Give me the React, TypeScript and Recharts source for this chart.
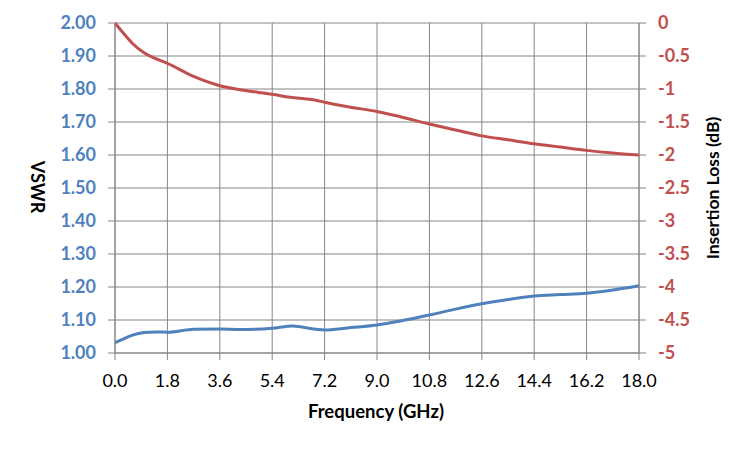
import { LineChart, Line, XAxis, YAxis, CartesianGrid, Label } from "recharts";

const FONT = "Lato, 'Open Sans', sans-serif";
const BLUE = "#4F81BD";
const RED = "#C0504D";
const GRID = "#868686";

const frequency = [
  0, 0.3, 0.6, 1.0, 1.4, 1.8, 2.7, 3.6, 4.3, 5.4, 6.1, 6.9, 7.2, 8.0, 9.0, 9.8,
  10.8, 11.7, 12.6, 13.5, 14.4, 15.3, 16.2, 17.1, 18.0,
];
const vswr = [
  1.031, 1.043, 1.054, 1.062, 1.064, 1.063, 1.072, 1.073, 1.071, 1.075, 1.082,
  1.072, 1.07, 1.076, 1.085, 1.097, 1.115, 1.133, 1.149, 1.162, 1.173, 1.177,
  1.181, 1.191, 1.204,
];
const insertionLoss = [
  0, -0.16, -0.31, -0.45, -0.54, -0.61, -0.81, -0.95, -1.01, -1.08, -1.13,
  -1.17, -1.2, -1.27, -1.34, -1.42, -1.53, -1.62, -1.71, -1.77, -1.83, -1.88,
  -1.93, -1.97, -2.0,
];

const freqTicks = [0, 1.8, 3.6, 5.4, 7.2, 9.0, 10.8, 12.6, 14.4, 16.2, 18.0];
const vswrTicks = [1.0, 1.1, 1.2, 1.3, 1.4, 1.5, 1.6, 1.7, 1.8, 1.9, 2.0];
const lossTicks = [-5, -4.5, -4, -3.5, -3, -2.5, -2, -1.5, -1, -0.5, 0];

const data = frequency.map((f, i) => ({
  f,
  vswr: vswr[i],
  loss: insertionLoss[i],
}));

export default function App() {
  return (
    <div style={{ position: "absolute", left: 0, top: 0, background: "#fff" }}>
      <LineChart
        width={750}
        height={450}
        data={data}
        margin={{ top: 23, right: 0, left: 0, bottom: 0 }}
      >
        <CartesianGrid stroke={GRID} yAxisId="left" />
        <XAxis
          dataKey="f"
          type="number"
          domain={[0, 18]}
          ticks={freqTicks}
          tickFormatter={(v) => v.toFixed(1)}
          height={97}
          tickSize={7}
          tickMargin={14}
          axisLine={{ stroke: GRID }}
          tickLine={{ stroke: GRID }}
          tick={{ fill: "#000", fontSize: 18, fontFamily: FONT }}
          interval={0}
        >
          <Label
            content={() => (
              <text
                x={376}
                y={411}
                textAnchor="middle"
                dominantBaseline="central"
                fontFamily={FONT}
                fontWeight="bold"
                fontSize={18.5}
                fill="#000"
              >
                Frequency (GHz)
              </text>
            )}
          />
        </XAxis>
        <YAxis
          yAxisId="left"
          domain={[1, 2]}
          ticks={vswrTicks}
          tickFormatter={(v) => v.toFixed(2)}
          width={115}
          tickSize={7}
          tickMargin={12}
          axisLine={{ stroke: GRID }}
          tickLine={{ stroke: GRID }}
          tick={{ fill: BLUE, fontSize: 18, fontWeight: "bold", fontFamily: FONT }}
          interval={0}
        >
          <Label
            content={() => (
              <text
                x={38}
                y={187}
                transform="rotate(90 38 187)"
                textAnchor="middle"
                dominantBaseline="central"
                fontFamily={FONT}
                fontWeight="bold"
                fontSize={18}
                fill="#000"
              >
                VSWR
              </text>
            )}
          />
        </YAxis>
        <YAxis
          yAxisId="right"
          orientation="right"
          domain={[-5, 0]}
          ticks={lossTicks}
          tickFormatter={(v) => String(v)}
          width={111}
          tickSize={7}
          tickMargin={12}
          axisLine={{ stroke: GRID }}
          tickLine={{ stroke: GRID }}
          tick={{ fill: RED, fontSize: 18, fontWeight: "bold", fontFamily: FONT }}
          interval={0}
        >
          <Label
            content={() => (
              <text
                x={712}
                y={188}
                transform="rotate(-90 712 188)"
                textAnchor="middle"
                dominantBaseline="central"
                fontFamily={FONT}
                fontWeight="bold"
                fontSize={17.5}
                fill="#000"
              >
                Insertion Loss (dB)
              </text>
            )}
          />
        </YAxis>
        <Line
          yAxisId="right"
          type="monotone"
          dataKey="loss"
          stroke={RED}
          strokeWidth={3}
          dot={false}
          isAnimationActive={false}
        />
        <Line
          yAxisId="left"
          type="monotone"
          dataKey="vswr"
          stroke={BLUE}
          strokeWidth={3}
          dot={false}
          isAnimationActive={false}
        />
      </LineChart>
    </div>
  );
}
